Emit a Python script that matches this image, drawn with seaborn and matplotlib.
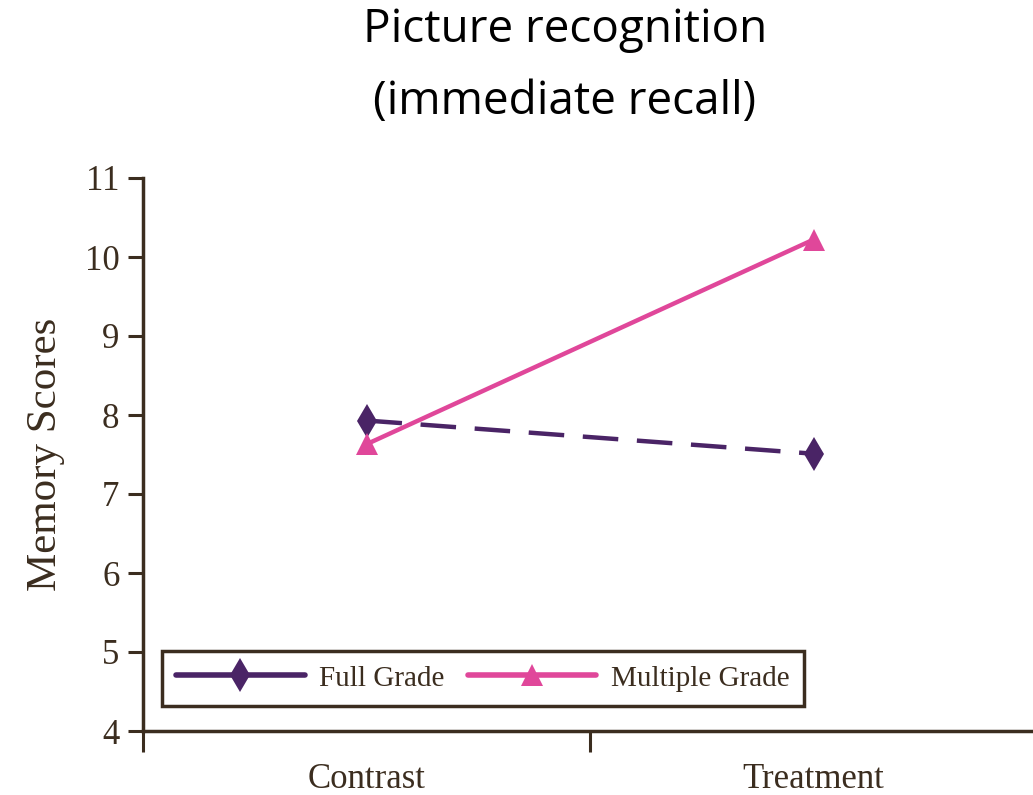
import matplotlib
matplotlib.use("Agg")
import matplotlib.pyplot as plt
from matplotlib.lines import Line2D
import seaborn as sns
import pandas as pd

# Data
conditions = ["Contrast", "Treatment"]
full_grade = [7.93, 7.51]
multiple_grade = [7.63, 10.22]
series_names = ["Full Grade", "Multiple Grade"]
y_ticks = [4, 5, 6, 7, 8, 9, 10, 11]

ink = "#3B2D1F"
purple = "#4A2466"
pink = "#E0479A"
serif = "Liberation Serif"

rows = []
for name, vals in zip(series_names, [full_grade, multiple_grade]):
    for i, (c, v) in enumerate(zip(conditions, vals)):
        rows.append({"condition": c, "pos": i + 0.5, "score": v, "group": name})
df = pd.DataFrame(rows)

sns.set_style("white")
fig = plt.figure(figsize=(10.33, 7.95), dpi=100)
ax = fig.add_axes([143 / 1033, 64 / 795, 890 / 1033, 553 / 795])

sns.lineplot(
    data=df, x="pos", y="score", hue="group", style="group",
    palette={"Full Grade": purple, "Multiple Grade": pink},
    markers={"Full Grade": "d", "Multiple Grade": "^"},
    dashes={"Full Grade": (8, 4.2), "Multiple Grade": ""},
    markersize=16, linewidth=3.2, markeredgewidth=0, ax=ax, legend=False,
)
for line in ax.get_lines():
    if line.get_marker() == "d":
        line.set_markersize(17)

ax.set_xlim(0, 890 / 447)
ax.set_ylim(4, 11)
ax.set_yticks(y_ticks)
ax.set_yticklabels([str(t) for t in y_ticks])
ax.set_xticks([0, 1])
ax.set_xticklabels([])
for i, c in enumerate(conditions):
    ax.text(i + 0.5, -0.058, c, transform=ax.get_xaxis_transform(),
            ha="center", va="top", fontsize=25, family=serif, color=ink)

for lab in ax.get_yticklabels():
    lab.set_fontfamily(serif)
    lab.set_fontsize(25)
    lab.set_color(ink)

ax.tick_params(axis="both", direction="out", length=11, width=2.2, colors=ink,
               bottom=True, left=True)
ax.tick_params(axis="x", length=15)
ax.tick_params(axis="y", pad=6)
sns.despine(ax=ax)
for s in ["left", "bottom"]:
    ax.spines[s].set_color(ink)
    ax.spines[s].set_linewidth(2.5)

ax.set_xlabel("")
ax.set_ylabel("Memory Scores", fontsize=31, family=serif, color=ink, labelpad=14)

handles = [
    Line2D([], [], color=purple, lw=4, marker="d", markersize=17, markeredgewidth=0),
    Line2D([], [], color=pink, lw=4, marker="^", markersize=16, markeredgewidth=0),
]
leg = ax.legend(handles, series_names, loc="lower left", ncol=2,
                bbox_to_anchor=(0.021, 0.045), borderaxespad=0,
                frameon=True, fancybox=False, framealpha=1,
                handlelength=4.4, columnspacing=0.8,
                handletextpad=0.5, borderpad=0.5,
                prop={"family": serif, "size": 21})
leg.get_frame().set_edgecolor(ink)
leg.get_frame().set_linewidth(2.5)
for t in leg.get_texts():
    t.set_color(ink)

fig.text(565 / 1033, 1 - 66 / 795, "Picture recognition\n(immediate recall)",
         ha="center", va="center", fontsize=33, family="Open Sans",
         color="black", linespacing=1.75)

fig.savefig("out.png", dpi=100, facecolor="white")
